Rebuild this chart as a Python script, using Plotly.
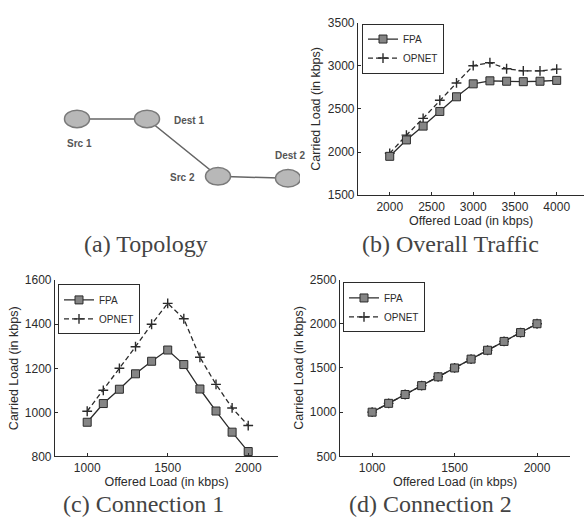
import plotly.graph_objects as go

W, H = 586, 525

# ---------------- data ----------------
b_x = [2000, 2200, 2400, 2600, 2800, 3000, 3200, 3400, 3600, 3800, 4000]
b_fpa = [1950, 2140, 2300, 2470, 2640, 2790, 2825, 2820, 2815, 2820, 2830]
b_opnet = [1985, 2195, 2390, 2600, 2800, 3000, 3035, 2965, 2940, 2940, 2960]

c_x = [1000, 1100, 1200, 1300, 1400, 1500, 1600, 1700, 1800, 1900, 2000]
c_fpa = [955, 1040, 1105, 1175, 1232, 1283, 1217, 1106, 1006, 910, 822]
c_opnet = [1005, 1100, 1200, 1298, 1400, 1495, 1425, 1250, 1127, 1020, 940]

d_x = [1000, 1100, 1200, 1300, 1400, 1500, 1600, 1700, 1800, 1900, 2000]
d_fpa = [1000, 1100, 1200, 1300, 1400, 1500, 1600, 1700, 1800, 1900, 2000]
d_opnet = [1000, 1100, 1200, 1300, 1400, 1500, 1600, 1700, 1800, 1900, 2000]

series_names = ["FPA", "OPNET"]

# topology diagram (pixel-like units of the diagram panel)
node_names = ["Src 1", "Dest 1", "Src 2", "Dest 2"]
node_x = [77, 147, 218, 288]
node_y = [115, 115, 174, 176]
label_x = [79, 172, 197, 273]
label_y = [140, 117, 175, 153]
label_anchor = ["center", "left", "right", "left"]

captions = ["(a) Topology", "(b) Overall Traffic", "(c) Connection 1", "(d) Connection 2"]

# ---------------- styling ----------------
INK = "#2b2b2b"
SQ_FILL = "#858585"
SANS = "Liberation Sans, Arial, sans-serif"
SERIF = "Liberation Serif, Times New Roman, serif"


def px_x(p):
    return p / W


def px_y(p):
    return 1 - p / H


fig = go.Figure()


def add_pair(x, fpa, opnet, xa, ya, legend):
    # OPNET drawn first so the FPA squares sit on top; legend order fixed by legendrank
    fig.add_trace(go.Scatter(
        x=x, y=opnet, name=series_names[1], mode="lines+markers",
        xaxis=xa, yaxis=ya, legend=legend, legendrank=2,
        line=dict(color=INK, width=1.3, dash="5px,3px"),
        marker=dict(symbol="cross-thin", size=7, color=INK,
                    line=dict(color=INK, width=1.4)),
    ))
    fig.add_trace(go.Scatter(
        x=x, y=fpa, name=series_names[0], mode="lines+markers",
        xaxis=xa, yaxis=ya, legend=legend, legendrank=1,
        line=dict(color=INK, width=1.3),
        marker=dict(symbol="square", size=8, color=SQ_FILL,
                    line=dict(color=INK, width=1)),
    ))


add_pair(b_x, b_fpa, b_opnet, "x", "y", "legend")
add_pair(c_x, c_fpa, c_opnet, "x2", "y2", "legend2")
add_pair(d_x, d_fpa, d_opnet, "x3", "y3", "legend3")

# topology edges
fig.add_trace(go.Scatter(
    x=node_x, y=node_y, mode="lines", xaxis="x4", yaxis="y4",
    line=dict(color="#666666", width=1.5), showlegend=False, hoverinfo="skip",
))

shapes = []
for nx, ny in zip(node_x, node_y):
    shapes.append(dict(type="circle", xref="x4", yref="y4",
                       x0=nx - 12.5, x1=nx + 12.5, y0=ny - 9, y1=ny + 9,
                       fillcolor="#b8b8b8", line=dict(color="#7a7a7a", width=1.5)))

annotations = []
for name, lx, ly, anc in zip(node_names, label_x, label_y, label_anchor):
    annotations.append(dict(text="<b>" + name + "</b>", x=lx, y=ly, xref="x4", yref="y4",
                            xanchor=anc, yanchor="middle", showarrow=False,
                            font=dict(family=SANS, size=10, color="#555555")))

cap_pos = [(146, 243), (450, 243), (143, 511), (431, 511)]
for txt, (cx, cy) in zip(captions, cap_pos):
    annotations.append(dict(text=txt, x=px_x(cx), y=px_y(cy), xref="paper", yref="paper",
                            xanchor="center", yanchor="middle", showarrow=False,
                            font=dict(family=SERIF, size=24, color="#444444")))

tickfont = dict(family=SANS, size=12, color=INK)
titlefont = dict(family=SANS, size=12.5, color=INK)


def axis(domain, rng, tickvals, title, standoff):
    return dict(domain=domain, range=rng, tickvals=tickvals, showgrid=False, zeroline=False,
                showline=True, linecolor=INK, linewidth=1.2, ticks="inside", ticklen=3,
                tickcolor=INK, tickfont=tickfont,
                title=dict(text=title, font=titlefont, standoff=standoff))


xt = "Offered Load (in kbps)"
yt = "Carried Load (in kbps)"

legend_common = dict(bgcolor="white", bordercolor=INK, borderwidth=1,
                     font=dict(family=SANS, size=10, color=INK),
                     xanchor="left", yanchor="top", itemwidth=30, tracegroupgap=0,
                     traceorder="normal")

fig.update_layout(
    width=W, height=H, margin=dict(l=0, r=0, t=0, b=0),
    paper_bgcolor="white", plot_bgcolor="white",
    xaxis=axis([px_x(358), px_x(584)], [1620, 4327], [2000, 2500, 3000, 3500, 4000], xt, 1),
    yaxis=axis([px_y(193.3), px_y(16)], [1500, 3500], [1500, 2000, 2500, 3000, 3500], yt, 4),
    xaxis2=dict(axis([px_x(55), px_x(278)], [800, 2185], [1000, 1500, 2000], xt, 1), anchor="y2"),
    yaxis2=dict(axis([px_y(461.7), px_y(280.7)], [800, 1600], [800, 1000, 1200, 1400, 1600], yt, 3), anchor="x2"),
    xaxis3=dict(axis([px_x(340), px_x(570)], [805, 2200], [1000, 1500, 2000], xt, 1), anchor="y3"),
    yaxis3=dict(axis([px_y(461.7), px_y(280)], [500, 2500], [500, 1000, 1500, 2000, 2500], yt, 3), anchor="x3"),
    xaxis4=dict(domain=[0, px_x(300)], range=[0, 300], visible=False, anchor="y4", fixedrange=True),
    yaxis4=dict(domain=[px_y(210), 1], range=[210, 0], visible=False, anchor="x4", fixedrange=True),
    legend=dict(legend_common, x=px_x(362), y=px_y(17)),
    legend2=dict(legend_common, x=px_x(58), y=px_y(285)),
    legend3=dict(legend_common, x=px_x(343), y=px_y(283)),
    shapes=shapes,
    annotations=annotations,
)
fig.update_layout(xaxis=dict(anchor="y"), yaxis=dict(anchor="x"))

fig.write_html("out.html")
